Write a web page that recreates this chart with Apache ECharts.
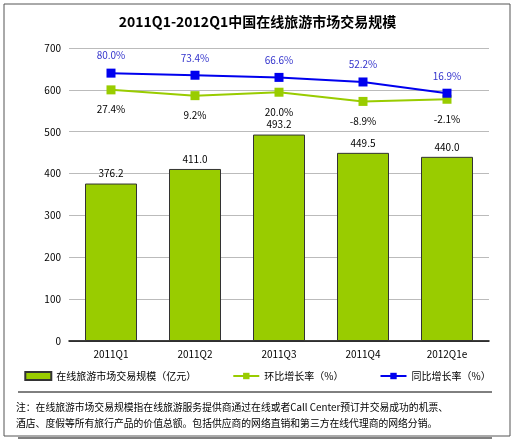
<!DOCTYPE html>
<html><head><meta charset="utf-8">
<script src="https://cdn.jsdelivr.net/npm/echarts@6/dist/echarts.min.js"></script>
<style>body{margin:0;background:#fff}#c{width:515px;height:441px}</style>
</head><body><div id="c"></div>
<script>
var categories = ['2011Q1','2011Q2','2011Q3','2011Q4','2012Q1e'];
var scaleValues = [376.2, 411.0, 493.2, 449.5, 440.0];
var qoqRates = [27.4, 9.2, 20.0, -8.9, -2.1];
var yoyRates = [80.0, 73.4, 66.6, 52.2, 16.9];
var font = '"Noto Sans CJK SC", sans-serif';

var chart = echarts.init(document.getElementById('c'));
chart.setOption({
	animation:false,
	textStyle:{fontFamily:font},
	title:{
		text:'2011Q1-2012Q1中国在线旅游市场交易规模',
		left:'center', top:10,
		textStyle:{fontSize:14, fontWeight:'bold', color:'#000', fontFamily:font}
	},
	graphic:[
		{type:'rect', shape:{x:4,y:4,width:506,height:432}, style:{fill:'none',stroke:'#555',lineWidth:1}},
		{type:'line', shape:{x1:18,y1:392,x2:492,y2:392}, style:{stroke:'#000',lineWidth:1}},
		{type:'line', shape:{x1:18,y1:438,x2:492,y2:438}, style:{stroke:'#000',lineWidth:1}},
		{type:'text', left:16, top:399, style:{
			text:'注：在线旅游市场交易规模指在线旅游服务提供商通过在线或者Call Center预订并交易成功的机票、\n酒店、度假等所有旅行产品的价值总额。包括供应商的网络直销和第三方在线代理商的网络分销。',
			fontSize:9.8, lineHeight:16, fill:'#000', fontFamily:font}}
	],
	legend:{
		top:366, left:'center', itemGap:36, itemWidth:26, itemHeight:8,
		textStyle:{fontSize:10, color:'#000'},
		data:[{name:'在线旅游市场交易规模（亿元）', icon:'rect'}, '环比增长率（%）', '同比增长率（%）']
	},
	grid:{left:69, right:26, top:48, bottom:100},
	xAxis:{
		type:'category', data:categories,
		axisLine:{lineStyle:{color:'#000', width:1.5}},
		axisTick:{show:false},
		axisLabel:{fontSize:10, color:'#000', margin:8}
	},
	yAxis:[
		{type:'value', min:0, max:700, interval:100,
		 axisLine:{show:false}, axisTick:{show:false},
		 axisLabel:{fontSize:10, color:'#000'},
		 splitLine:{lineStyle:{color:'#bbb'}}},
		{type:'value', min:-762, max:159, show:false, splitLine:{show:false}}
	],
	series:[
		{name:'在线旅游市场交易规模（亿元）', type:'bar', data:scaleValues, barWidth:52,
		 itemStyle:{color:'#99cc00', borderColor:'#333', borderWidth:1},
		 label:{show:true, position:'top', fontSize:10, color:'#000', formatter:function(p){return p.value.toFixed(1);}}},
		{name:'环比增长率（%）', type:'line', yAxisIndex:1, data:qoqRates,
		 symbol:'rect', symbolSize:9, lineStyle:{color:'#99cc00', width:2}, itemStyle:{color:'#99cc00'},
		 label:{show:true, position:'bottom', distance:10, fontSize:10, color:'#000', formatter:function(p){return p.value.toFixed(1)+'%';}}},
		{name:'同比增长率（%）', type:'line', yAxisIndex:1, data:yoyRates,
		 symbol:'rect', symbolSize:9, lineStyle:{color:'#0000ee', width:2}, itemStyle:{color:'#0000ee'},
		 label:{show:true, position:'top', distance:8, fontSize:10, color:'#3333cc', formatter:function(p){return p.value.toFixed(1)+'%';}}}
	]
});
</script></body></html>
